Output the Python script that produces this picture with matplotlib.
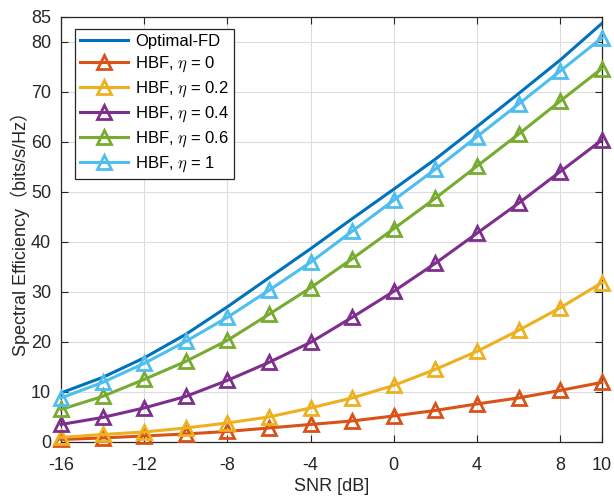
import numpy as np
import matplotlib
matplotlib.use("Agg")
from matplotlib import pyplot

pyplot.rcParams['font.family'] = ['Liberation Sans', 'Noto Sans CJK SC', 'DejaVu Sans']
pyplot.rcParams['mathtext.fontset'] = 'cm'
pyplot.rcParams['axes.unicode_minus'] = False

# SNR points in dB
snr = [-16, -14, -12, -10, -8, -6, -4, -2, 0, 2, 4, 6, 8, 10]

# Spectral efficiency (bits/s/Hz)
se_opt = [9.8, 12.9, 16.8, 21.5, 27.0, 32.8, 38.6, 44.6, 50.5, 56.5, 63.0, 69.6, 76.3, 83.6]
se_eta0 = [0.5, 0.8, 1.2, 1.6, 2.1, 2.8, 3.5, 4.2, 5.2, 6.3, 7.6, 8.8, 10.3, 11.9]
se_eta02 = [0.9, 1.5, 2.0, 2.8, 3.8, 5.0, 6.8, 8.8, 11.3, 14.5, 18.1, 22.3, 26.8, 31.8]
se_eta04 = [3.5, 4.9, 6.8, 9.1, 12.3, 15.9, 19.9, 24.9, 30.1, 35.7, 41.7, 47.7, 54.0, 60.3]
se_eta06 = [6.5, 9.1, 12.5, 16.1, 20.3, 25.5, 30.8, 36.6, 42.6, 48.7, 55.1, 61.5, 68.1, 74.6]
se_eta1 = [8.8, 11.9, 15.7, 20.1, 24.9, 30.3, 35.9, 42.1, 48.3, 54.5, 61.0, 67.5, 74.1, 80.7]

hbf = [(se_eta0, '#D95319', r'HBF, $\eta$ = 0'),
       (se_eta02, '#EDB120', r'HBF, $\eta$ = 0.2'),
       (se_eta04, '#7E2F8E', r'HBF, $\eta$ = 0.4'),
       (se_eta06, '#77AC30', r'HBF, $\eta$ = 0.6'),
       (se_eta1, '#4DBEEE', r'HBF, $\eta$ = 1')]

fig = pyplot.figure(figsize=(6.14, 5.01), dpi=100)
ax = fig.add_axes([0.0993, 0.1178, 0.8807, 0.8492])

ax.plot(snr, se_opt, color='#0072BD', lw=2.2, label='Optimal-FD', zorder=3)
for vals, col, lab in hbf:
    ax.plot(snr, vals, color=col, lw=2.2, marker='^', ms=9.5, mew=2.0,
            mfc='none', label=lab, zorder=3, clip_on=False)

ax.set_xlim(-16, 10)
ax.set_ylim(0, 85)
ax.set_xticks([-16, -12, -8, -4, 0, 4, 8, 10])
ax.set_yticks([0, 10, 20, 30, 40, 50, 60, 70, 80, 85])
ax.grid(True, color='#dddddd', lw=0.8)
ax.set_axisbelow(True)
ax.tick_params(direction='in', top=True, right=True, labelsize=13,
               colors='#262626', length=5)
ax.tick_params(axis='x', pad=11)
ax.tick_params(axis='y', pad=7)
for sp in ax.spines.values():
    sp.set_color('#262626')
    sp.set_linewidth(0.9)

ax.set_xlabel('SNR [dB]', fontsize=13, color='#262626', labelpad=3)
ax.set_ylabel('Spectral Efficiency（bits/s/Hz）', fontsize=13, color='#262626', labelpad=1)

leg = ax.legend(loc='upper left', bbox_to_anchor=(0.026, 0.97), borderaxespad=0,
                fontsize=12, handlelength=2.9, labelspacing=0.33,
                fancybox=False, framealpha=1, edgecolor='#262626',
                borderpad=0.3, handletextpad=0.4)
leg.get_frame().set_linewidth(0.9)

pyplot.savefig('out.png', dpi=100)
